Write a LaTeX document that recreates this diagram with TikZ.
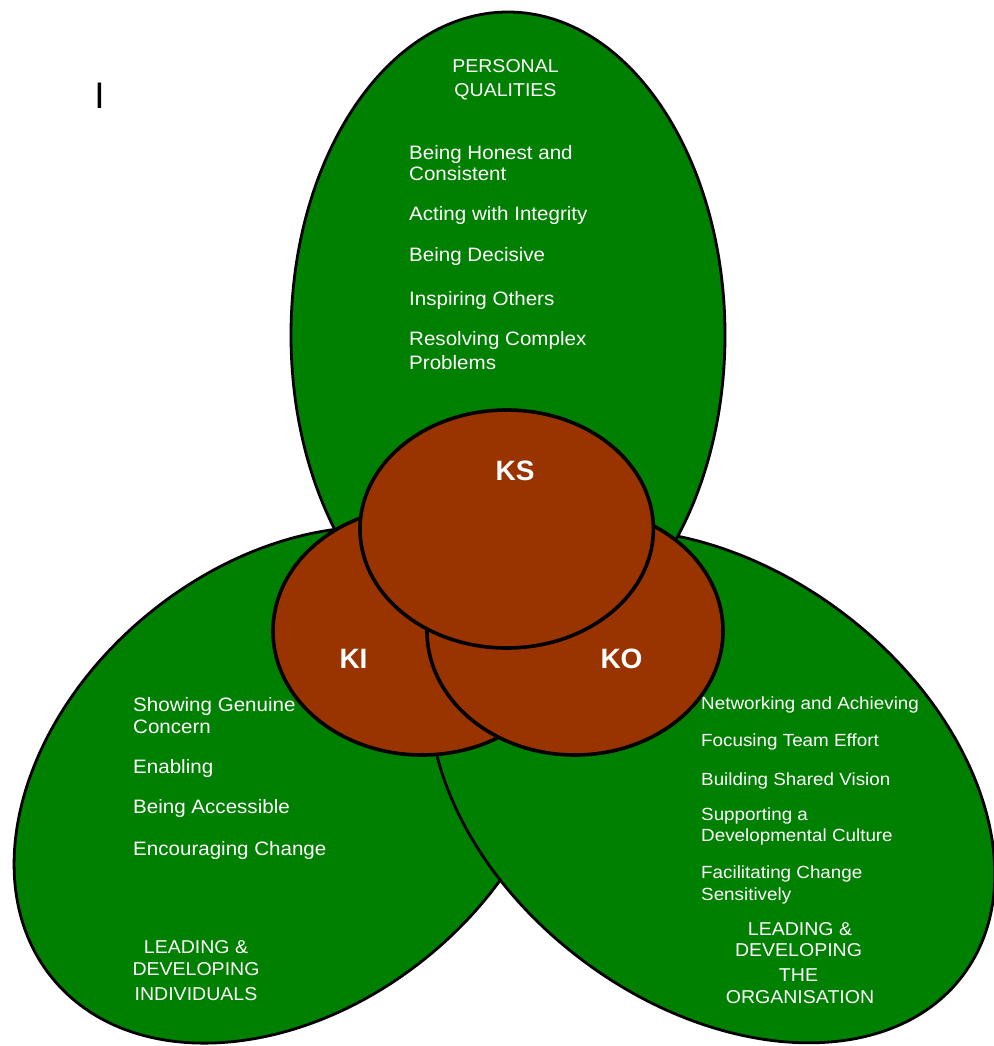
\documentclass[tikz,border=0pt]{standalone}
\usepackage{fontspec}
\setmainfont{Liberation Sans}
\newfontfamily\itemfont[FakeStretch=1.06]{Liberation Sans}
\newfontfamily\itemfontR[FakeStretch=1.07]{Liberation Sans}
\newfontfamily\headfont[FakeStretch=1.05]{Liberation Sans}
\definecolor{leafgreen}{RGB}{0,128,0}
\definecolor{rust}{RGB}{153,51,0}
\begin{document}
\begin{tikzpicture}[x=1pt,y=-1pt,
  lobe/.style={fill=leafgreen, draw=black, line width=2.8pt},
  core/.style={fill=rust, draw=black, line width=3.6pt},
  itemL/.style={text=white, anchor=base west, inner sep=0pt, font=\itemfont\fontsize{19.4}{22}\selectfont},
  itemR/.style={text=white, anchor=base west, inner sep=0pt, font=\itemfontR\fontsize{17.6}{20}\selectfont},
  headtxt/.style={text=white, anchor=base, inner sep=0pt, font=\headfont\fontsize{18.6}{22}\selectfont},
  corelabel/.style={text=white, anchor=base, inner sep=0pt, font=\bfseries\fontsize{28}{30}\selectfont}
]
\useasboundingbox (0,0) rectangle (993,1046);
\fill[white] (0,0) rectangle (993,1046);

% centres
\coordinate (cL) at (288.4,785);
\coordinate (cR) at (712.2,786.3);
\coordinate (cT) at (508,335);
\coordinate (cKI) at (422,631);
\coordinate (cKO) at (575,631);
\coordinate (cKS) at (506.7,529);

% green lobes
\draw[lobe, rotate around={39.4:(cL)}] (cL) ellipse [x radius=305, y radius=221];
\draw[lobe, rotate around={-37.1:(cR)}] (cR) ellipse [x radius=314, y radius=217];
\draw[lobe] (cT) ellipse [x radius=217, y radius=323];

% brown cores
\draw[core] (cKI) ellipse [x radius=149, y radius=124];
\draw[core] (cKO) ellipse [x radius=148, y radius=124];
\draw[core] (cKS) ellipse [x radius=146.7, y radius=119];

\node[corelabel] (ks) at (515,480) {KS};
\node[corelabel] (ki) at (353.5,668) {KI};
\node[corelabel] (ko) at (621.5,668) {KO};

% stray letter
\node[anchor=base, inner sep=0pt, font=\fontsize{37}{40}\selectfont] (cursor) at (99.5,108.6) {I};

% top lobe
\node[headtxt] (pq1) at (505.5,72.4) {PERSONAL};
\node[headtxt] (pq2) at (505.5,96.5) {QUALITIES};
\node[itemL] (t1) at (409,159) {Being Honest and};
\node[itemL] (t1b) at (409,180) {Consistent};
\node[itemL] (t2) at (409,220.5) {Acting with Integrity};
\node[itemL] (t3) at (409,261) {Being Decisive};
\node[itemL] (t4) at (409,305) {Inspiring Others};
\node[itemL] (t5) at (409,345.5) {Resolving Complex};
\node[itemL] (t5b) at (409,369) {Problems};

% left lobe
\node[itemL] (l1) at (133,711) {Showing Genuine};
\node[itemL] (l1b) at (133,733) {Concern};
\node[itemL] (l2) at (133,773.5) {Enabling};
\node[itemL] (l3) at (133,813.6) {Being Accessible};
\node[itemL] (l4) at (133,855.5) {Encouraging Change};
\node[headtxt] (ld1) at (196,953) {LEADING \&};
\node[headtxt] (ld2) at (196,975.5) {DEVELOPING};
\node[headtxt] (ld3) at (196,1000) {INDIVIDUALS};

% right lobe
\node[itemR] (r1) at (701,709) {Networking and Achieving};
\node[itemR] (r2) at (701,746.7) {Focusing Team Effort};
\node[itemR] (r3) at (701,785) {Building Shared Vision};
\node[itemR] (r4) at (701,820.5) {Supporting a};
\node[itemR] (r4b) at (701,841.5) {Developmental Culture};
\node[itemR] (r5) at (701,878) {Facilitating Change};
\node[itemR] (r5b) at (701,900.7) {Sensitively};
\node[headtxt] (ro1) at (800,935.6) {LEADING \&};
\node[headtxt] (ro2) at (798.5,956.4) {DEVELOPING};
\node[headtxt] (ro3) at (798.5,981) {THE};
\node[headtxt] (ro4) at (800,1003.5) {ORGANISATION};
\end{tikzpicture}
\end{document}
